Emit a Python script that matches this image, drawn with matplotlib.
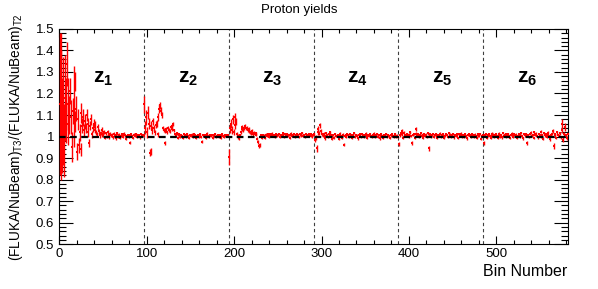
import numpy as np
import matplotlib
matplotlib.use('Agg')
import matplotlib.pyplot as plt
from matplotlib.ticker import MultipleLocator, FormatStrFormatter

plt.rcParams['font.family'] = ['Liberation Sans', 'DejaVu Sans']
plt.rcParams['mathtext.fontset'] = 'custom'
plt.rcParams['mathtext.rm'] = 'Liberation Sans'
plt.rcParams['mathtext.bf'] = 'Liberation Sans:bold'

# first bin of each z zone, 97 bins per zone
zone_starts = [0, 97, 194, 291, 388, 485]
zone_labels = [r'$\mathbf{z_1}$', r'$\mathbf{z_2}$', r'$\mathbf{z_3}$',
               r'$\mathbf{z_4}$', r'$\mathbf{z_5}$', r'$\mathbf{z_6}$']

# ratio - 1, in units of 1e-3 per bin
z1_dev = [150, 100, 200, 50, 120, -20, 180, 120, 337, 150,
          60, 100, 210, 90, -50, 120, 140, 255, 70, 130,
          -70, 80, -40, 20, 110, -60, 50, 90, 30, 70,
          40, 100, 20, 60, -30, 50, 80, 10, 40, 60,
          30, 55, 20, 10, 45, 25, 5, 15, 32, 10,
          12, 20, -5, 15, 0, 22, 8, -3, 14, 5,
          8, -4, 12, 3, -8, 6, 15, 0, 9, -6,
          4, 11, -2, 7, 14, 5, -10, 3, 8, -3,
          -28, 6, 10, 2, -5, 9, 4, 12, -1, 6,
          3, 8, -4, 10, 2, 7, 5]
z1_err = [330, 300, 280, 220, 250, 170, 200, 150, 100, 120,
          100, 90, 60, 80, 70, 60, 190, 45, 50, 60,
          40, 50, 35, 40, 45, 30, 35, 40, 30, 35,
          25, 30, 20, 25, 20, 20, 25, 18, 20, 22,
          15, 15, 12, 12, 14, 12, 10, 10, 12, 10,
          9, 9, 8, 8, 8, 8, 7, 7, 7, 7,
          7, 6, 7, 6, 6, 6, 7, 6, 6, 6,
          6, 6, 5, 6, 6, 5, 6, 5, 6, 6,
          8, 6, 5, 6, 5, 6, 5, 5, 6, 5,
          6, 5, 6, 5, 5, 6, 5]

z2_dev = [150, 40, 90, 20, 110, 60, -75, -70, 50, 30,
          70, 40, 20, 55, 60, 10, 90, 130, 145, 120,
          100, 40, 30, -30, 25, 35, 20, 40, 30, 25,
          45, 35, 50, 60, 30, 10, 5, 15, -5, 10,
          5, -3, 8, 2, -6, 10, 4, -2, 7, 12,
          3, -5, 6, 1, 9, -4, 2, 11, 5, -8,
          3, 7, -1, 4, 10, -3, -25, 6, 2, 8,
          -6, 5, 13, 1, -2, 7, 4, 9, -5, 3,
          6, 11, -3, 2, 8, 0, 5, -7, 4, 10,
          2, -4, 6, 3, 9, 1, 7]
z2_err = [40, 30, 35, 25, 30, 25, 15, 15, 20, 20,
          15, 15, 12, 15, 15, 12, 20, 20, 15, 15,
          12, 10, 10, 8, 10, 8, 8, 10, 8, 8,
          8, 8, 8, 9, 7, 7, 6, 7, 6, 6,
          6, 5, 6, 5, 6, 6, 5, 6, 5, 6,
          5, 6, 5, 5, 6, 5, 6, 5, 6, 5,
          5, 6, 5, 5, 6, 5, 7, 5, 6, 5,
          6, 5, 6, 5, 5, 6, 5, 5, 6, 5,
          5, 6, 5, 5, 6, 5, 5, 6, 5, 5,
          6, 5, 5, 6, 5, 5, 6]

z3_dev = [-95, 40, 60, 30, 80, 20, 55, 90, 70, 10,
          0, -5, 5, 20, 35, 45, 30, 40, 50, 38,
          42, 30, 25, 35, 20, 15, 25, 10, 18, 12,
          8, 15, -10, -25, -45, -40, 5, -5, 2, 8,
          4, -6, 9, 3, 12, 6, -2, 10, 5, 14,
          1, 7, -4, 11, 6, 2, 9, 13, -3, 5,
          8, 15, 4, -1, 10, 6, 12, 3, 7, -5,
          9, 14, 2, 6, 11, 0, 8, 4, 13, 7,
          -2, 10, 5, 16, 3, 9, 6, -4, 11, 7,
          2, 12, 8, 4, 10, 1, 6]
z3_err = [35, 25, 20, 20, 20, 15, 20, 20, 15, 10,
          10, 10, 8, 10, 10, 10, 8, 10, 10, 8,
          8, 8, 8, 8, 7, 7, 8, 7, 7, 7,
          7, 7, 8, 10, 10, 10, 7, 7, 6, 6,
          6, 5, 6, 5, 6, 6, 5, 6, 5, 6,
          5, 6, 5, 6, 5, 5, 6, 5, 6, 6,
          5, 6, 5, 5, 6, 5, 6, 5, 6, 5,
          6, 5, 6, 5, 5, 6, 5, 6, 5, 6,
          5, 6, 5, 6, 6, 5, 6, 5, 5, 6,
          5, 6, 5, 6, 5, 6, 5]

z4_dev = [10, -15, -5, -55, 20, 35, 15, 53, 25, 10,
          5, 12, -8, 3, 15, 8, -3, 10, 20, 6,
          -10, 4, 9, -5, 12, 2, 2, 7, -12, 5,
          14, 3, -6, 9, -38, 1, 7, -4, 11, 5,
          0, 13, 6, -7, 9, 3, 15, -2, 8, 4,
          -9, 6, 12, 2, -4, 10, 5, -1, 8, 14,
          3, -6, 7, 1, 11, 4, -3, 9, 6, 13,
          -2, 5, 10, 0, 7, -8, 4, 12, 3, -5,
          8, 2, 11, -3, 6, 9, 1, -6, 5, 10,
          3, -2, 7, 12, 0, 4, -4]
z4_err = [8, 10, 12, 15, 15, 12, 10, 12, 10, 8,
          7, 7, 6, 6, 7, 6, 6, 7, 6, 6,
          6, 6, 5, 6, 6, 6, 6, 6, 6, 5,
          6, 5, 6, 6, 8, 5, 6, 5, 6, 5,
          6, 5, 6, 6, 5, 6, 5, 6, 5, 6,
          5, 6, 5, 6, 5, 5, 6, 5, 6, 5,
          6, 5, 6, 5, 6, 5, 5, 6, 5, 6,
          5, 6, 5, 6, 5, 6, 5, 6, 5, 5,
          6, 5, 6, 5, 6, 5, 5, 6, 5, 6,
          5, 6, 5, 6, 5, 6, 5]

z5_dev = [-35, 5, 15, 25, 10, -5, 18, 8, 3, 12,
          6, -4, 9, 20, 2, -30, 7, 11, -6, 35,
          14, 4, 10, -2, 8, 16, 1, 6, -8, 12,
          3, 9, -4, 15, -55, 5, 10, 0, 7, 13,
          -3, 6, 11, 2, -7, 9, 4, 14, -1, 8,
          5, 12, -5, 3, 10, 7, -2, 15, 4, 9,
          0, 6, 13, -4, 8, 2, 11, 5, -6, 10,
          3, 14, 1, 7, -3, 9, 12, 4, -8, 6,
          10, 2, 8, -2, 13, 5, 0, 9, 3, -5,
          11, 6, 2, 12, -10, 4, 7]
z5_err = [10, 7, 7, 8, 6, 6, 7, 6, 6, 6,
          6, 5, 6, 7, 6, 8, 6, 6, 6, 10,
          6, 5, 6, 5, 6, 6, 5, 6, 5, 6,
          5, 6, 5, 6, 10, 5, 6, 5, 6, 5,
          6, 5, 6, 5, 6, 5, 6, 5, 6, 5,
          5, 6, 5, 6, 5, 6, 5, 6, 5, 6,
          5, 6, 5, 6, 5, 6, 5, 5, 6, 5,
          6, 5, 6, 5, 6, 5, 6, 5, 6, 5,
          5, 6, 5, 6, 5, 6, 5, 6, 5, 6,
          5, 6, 5, 6, 6, 5, 6]

z6_dev = [-30, 8, 3, 12, -5, 6, 10, 1, -8, 14,
          4, 9, -2, 7, 11, 3, -6, 13, 5, 0,
          9, -4, 15, 2, 7, 12, -3, 6, 10, 1,
          -7, 8, 14, 4, -2, 11, 5, 9, -5, 3,
          12, 7, -1, 16, 2, -9, 10, 6, 13, -30,
          4, 8, -3, 11, 18, 1, 7, 20, -6, 9,
          14, 3, -4, 12, 6, 22, 0, 8, -10, 15,
          5, 10, -2, 18, 7, 3, -12, 9, 14, 25,
          -45, 6, 11, -6, 20, 8, 4, 15, -3, 60,
          30, -15, 10, 45, 5, -8, 12]
z6_err = [8, 6, 5, 6, 5, 6, 5, 6, 5, 6,
          5, 6, 5, 6, 5, 6, 5, 6, 5, 6,
          5, 6, 5, 6, 5, 6, 5, 6, 5, 6,
          5, 6, 5, 6, 5, 6, 5, 6, 5, 6,
          5, 6, 5, 6, 5, 6, 5, 6, 5, 8,
          5, 6, 5, 6, 7, 5, 6, 7, 5, 6,
          6, 5, 6, 5, 6, 7, 5, 6, 6, 7,
          5, 6, 5, 7, 6, 5, 7, 6, 6, 8,
          15, 6, 7, 6, 8, 6, 6, 8, 7, 20,
          15, 12, 10, 18, 8, 10, 10]

devs = [z1_dev, z2_dev, z3_dev, z4_dev, z5_dev, z6_dev]
errs = [z1_err, z2_err, z3_err, z4_err, z5_err, z6_err]

fig = plt.figure(figsize=(5.98, 2.89), dpi=100)
ax = fig.add_axes([0.099, 0.155, 0.851, 0.745])

for start, d, e in zip(zone_starts, devs, errs):
    x = start + np.arange(len(d)) + 0.5
    y = 1 + np.array(d) / 1000.
    ax.errorbar(x, y, yerr=np.array(e) / 1000., fmt='s', ms=2.0, color='red',
                ecolor='red', elinewidth=1.0, capsize=0, mew=0, zorder=3)

ax.axhline(1, color='black', ls=(0, (3, 2)), lw=1.6, zorder=4)
for b in zone_starts[1:]:
    ax.axvline(b, color='0.25', ls=(0, (3, 2.5)), lw=0.8, zorder=2)

for start, lab in zip(zone_starts, zone_labels):
    ax.text(start + 50, 1.27, lab, ha='center', va='center', fontsize=15)

ax.set_xlim(0, 582)
ax.set_ylim(0.5, 1.5)
ax.xaxis.set_major_locator(MultipleLocator(100))
ax.xaxis.set_minor_locator(MultipleLocator(20))
ax.yaxis.set_major_locator(MultipleLocator(0.1))
ax.yaxis.set_minor_locator(MultipleLocator(0.02))
ax.yaxis.set_major_formatter(FormatStrFormatter('%g'))
ax.tick_params(which='both', direction='in', top=True, right=True,
               labelsize=9.5, width=0.8)
ax.tick_params(axis='y', which='major', length=10)
ax.tick_params(axis='y', which='minor', length=5)
ax.tick_params(axis='x', which='major', length=6, pad=3)
ax.tick_params(axis='x', which='minor', length=3)

fig.text(0.5, 0.965, 'Proton yields', ha='center', va='center', fontsize=9.5)
fig.text(0.949, 0.062, 'Bin Number', ha='right', va='center', fontsize=11.5)
fig.text(0.026, 0.526, r'(FLUKA/NuBeam)$_{\rm T3}$/(FLUKA/NuBeam)$_{\rm T2}$',
         rotation=90, ha='center', va='center', fontsize=9.8)

fig.savefig('out.png', dpi=100)
